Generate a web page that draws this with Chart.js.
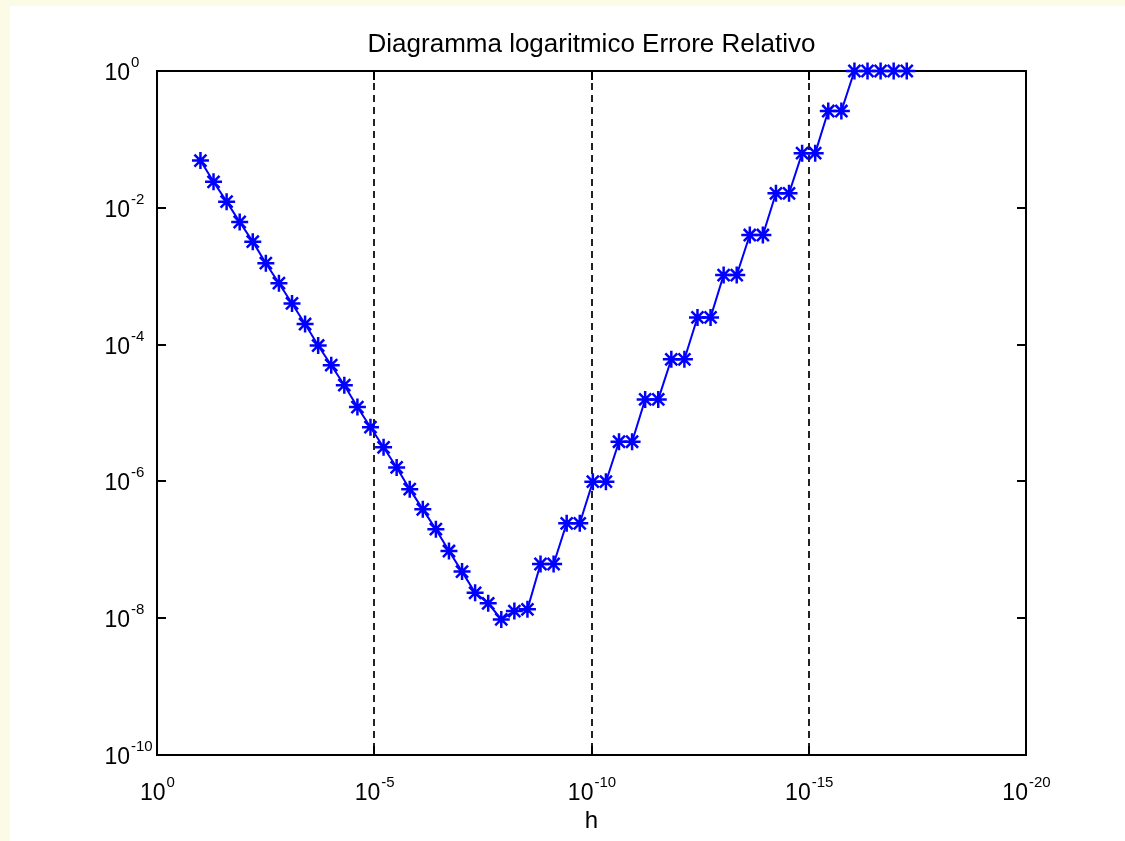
<!DOCTYPE html>
<html>
<head>
<meta charset="utf-8">
<script src="https://cdn.jsdelivr.net/npm/chart.js@4.4.0/dist/chart.umd.min.js"></script>
<style>
  body { margin: 0; background: #fff; }
  #wrap { position: relative; width: 1125px; height: 841px; }
</style>
</head>
<body>
<div id="wrap"><canvas id="errChart" width="1125" height="841"></canvas></div>
<script>
// step sizes h (halved each time) and the relative error
const hValues = [
  1.0e-1, 5.0e-2, 2.5e-2, 1.25e-2, 6.25e-3, 3.125e-3, 1.5625e-3, 7.8125e-4,
  3.906e-4, 1.953e-4, 9.766e-5, 4.883e-5, 2.441e-5, 1.221e-5, 6.104e-6, 3.052e-6,
  1.526e-6, 7.629e-7, 3.815e-7, 1.907e-7, 9.537e-8, 4.768e-8, 2.384e-8, 1.192e-8,
  5.960e-9, 2.980e-9, 1.490e-9, 7.451e-10, 3.725e-10, 1.863e-10, 9.313e-11, 4.657e-11,
  2.328e-11, 1.164e-11, 5.821e-12, 2.910e-12, 1.455e-12, 7.276e-13, 3.638e-13, 1.819e-13,
  9.095e-14, 4.547e-14, 2.274e-14, 1.137e-14, 5.684e-15, 2.842e-15, 1.421e-15, 7.105e-16,
  3.553e-16, 1.776e-16, 8.882e-17, 4.441e-17, 2.220e-17, 1.110e-17, 5.551e-18
];
const relError = [
  4.9e-2, 2.4e-2, 1.23e-2, 6.2e-3, 3.2e-3, 1.55e-3, 7.9e-4, 4.0e-4,
  2.0e-4, 9.7e-5, 5.0e-5, 2.55e-5, 1.22e-5, 6.2e-6, 3.15e-6, 1.6e-6,
  7.7e-7, 3.9e-7, 2.0e-7, 9.6e-8, 4.8e-8, 2.35e-8, 1.65e-8, 9.6e-9,
  1.27e-8, 1.35e-8, 6.2e-8, 6.2e-8, 2.44e-7, 2.44e-7, 9.9e-7, 9.9e-7,
  3.8e-6, 3.8e-6, 1.58e-5, 1.58e-5, 6.1e-5, 6.1e-5, 2.5e-4, 2.5e-4,
  1.04e-3, 1.04e-3, 4.0e-3, 4.0e-3, 1.63e-2, 1.63e-2, 6.3e-2, 6.3e-2,
  0.26, 0.26, 1, 1, 1, 1, 1
];
const xTickExps = [0, -5, -10, -15, -20];
const yTickExps = [0, -2, -4, -6, -8, -10];
const titleText = 'Diagramma logaritmico Errore Relativo';
const xLabel = 'h';

const baseFont = '23px "Liberation Sans", Arial, sans-serif';
const supFont = '15px "Liberation Sans", Arial, sans-serif';

function drawPow(ctx, exp, x, y, axis) {
  const sup = String(exp);
  ctx.font = baseFont;
  const wb = ctx.measureText('10').width;
  ctx.font = supFont;
  const ws = ctx.measureText(sup).width;
  ctx.fillStyle = '#000';
  ctx.textAlign = 'left';
  ctx.textBaseline = 'alphabetic';
  let left, baseY;
  if (axis === 'x') {
    left = x - (wb + ws) / 2;
    baseY = y + 45;
  } else {
    left = x - 27 - wb;
    baseY = y + 9;
  }
  ctx.font = baseFont;
  ctx.fillText('10', left, baseY);
  ctx.font = supFont;
  ctx.fillText(sup, left + wb + 1, baseY - 13);
}

const matlabAxes = {
  id: 'matlabAxes',
  beforeDraw(chart) {
    const ctx = chart.ctx;
    ctx.save();
    ctx.fillStyle = '#fff';
    ctx.fillRect(0, 0, chart.width, chart.height);
    ctx.fillStyle = '#fcfce6';
    ctx.fillRect(0, 0, chart.width, 6);
    ctx.fillRect(0, 0, 10, chart.height);
    ctx.restore();
  },
  beforeDatasetsDraw(chart) {
    const { ctx, chartArea: a, scales } = chart;
    ctx.save();
    // dashed vertical grid lines
    ctx.strokeStyle = '#222';
    ctx.lineWidth = 2;
    ctx.setLineDash([7, 5]);
    xTickExps.slice(1, -1).forEach(e => {
      const px = Math.round(scales.x.getPixelForValue(Math.pow(10, e)));
      ctx.beginPath();
      ctx.moveTo(px, a.top);
      ctx.lineTo(px, a.bottom);
      ctx.stroke();
    });
    ctx.setLineDash([]);
    // box
    ctx.strokeStyle = '#000';
    ctx.lineWidth = 2;
    ctx.strokeRect(a.left, a.top, a.right - a.left, a.bottom - a.top);
    // inward tick marks
    const tl = 9;
    ctx.beginPath();
    xTickExps.slice(1, -1).forEach(e => {
      const px = Math.round(scales.x.getPixelForValue(Math.pow(10, e)));
      ctx.moveTo(px, a.bottom); ctx.lineTo(px, a.bottom - tl);
      ctx.moveTo(px, a.top); ctx.lineTo(px, a.top + tl);
    });
    yTickExps.slice(1, -1).forEach(e => {
      const py = Math.round(scales.y.getPixelForValue(Math.pow(10, e)));
      ctx.moveTo(a.left, py); ctx.lineTo(a.left + tl, py);
      ctx.moveTo(a.right, py); ctx.lineTo(a.right - tl, py);
    });
    ctx.stroke();
    ctx.restore();
  },
  afterDraw(chart) {
    const { ctx, chartArea: a, scales } = chart;
    ctx.save();
    xTickExps.forEach(e => drawPow(ctx, e, scales.x.getPixelForValue(Math.pow(10, e)), a.bottom, 'x'));
    yTickExps.forEach(e => drawPow(ctx, e, a.left, scales.y.getPixelForValue(Math.pow(10, e)), 'y'));
    ctx.fillStyle = '#000';
    ctx.textAlign = 'center';
    ctx.textBaseline = 'alphabetic';
    ctx.font = '26px "Liberation Sans", Arial, sans-serif';
    ctx.fillText(titleText, (a.left + a.right) / 2, a.top - 19);
    ctx.font = '24px "Liberation Sans", Arial, sans-serif';
    ctx.fillText(xLabel, (a.left + a.right) / 2, a.bottom + 73);
    ctx.restore();
  }
};

new Chart(document.getElementById('errChart'), {
  type: 'scatter',
  data: {
    datasets: [{
      data: hValues.map((h, i) => ({ x: h, y: relError[i] })),
      showLine: true,
      borderColor: '#0000ff',
      borderWidth: 2,
      pointStyle: 'star',
      pointRadius: 8.5,
      pointBorderWidth: 2.5,
      pointBorderColor: '#0000ff',
      pointBackgroundColor: '#0000ff',
      clip: false
    }]
  },
  options: {
    responsive: false,
    animation: false,
    events: [],
    layout: { padding: { left: 157, right: 99, top: 71, bottom: 86 } },
    plugins: { legend: { display: false }, tooltip: { enabled: false } },
    scales: {
      x: { type: 'logarithmic', reverse: true, min: 1e-20, max: 1, display: false },
      y: { type: 'logarithmic', min: 1e-10, max: 1, display: false }
    }
  },
  plugins: [matlabAxes]
});
</script>
</body>
</html>
